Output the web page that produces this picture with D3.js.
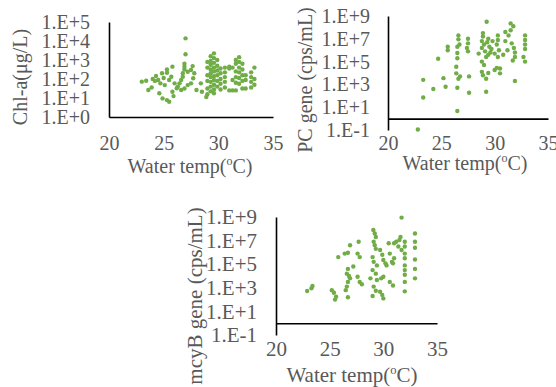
<!DOCTYPE html>
<html>
<head>
<meta charset="utf-8">
<script src="https://cdn.jsdelivr.net/npm/d3@7"></script>
<style>
  body { margin: 0; background: #fff; }
  svg { display: block; }
  text { font-family: "Liberation Serif", "Times New Roman", serif; fill: #595959; }
  .axis path { stroke: #000; stroke-width: 1.6; }
  .axis line { display: none; }
</style>
</head>
<body>
<svg></svg>
<script>
// x ticks (water temperature, °C)
const tempTicks = [20, 25, 30, 35]
// y ticks (powers of ten)
const chlTicks = [1e0, 1e1, 1e2, 1e3, 1e4, 1e5]
const geneTicks = [1e-1, 1e1, 1e3, 1e5, 1e7, 1e9]

// [temp °C, log10 value]
const chlPoints = [
  [27.0,4.14],[27.0,3.3],[26.9,2.8],[26.9,2.65],[25.8,2.65],[25.3,2.5],[25.3,2.33],[24.85,2.3],[24.3,2.16],[23.0,1.86],
  [23.4,1.91],[23.6,1.42],[24.5,1.95],[24.7,1.77],[25.1,1.68],[24.6,1.25],[24.9,0.98],[25.3,0.89],[25.5,0.8],[25.8,1.33],
  [26.2,1.51],[26.3,1.6],[26.45,1.77],[26.6,1.95],[26.75,2.3],[26.75,2.12],[27.2,2.38],[27.5,2.47],[27.65,2.68],[27.7,2.04],
  [27.5,1.77],[27.2,1.68],[26.9,1.5],[26.6,1.42],[28.0,1.42],[26.0,1.77],[25.5,1.95],[25.7,2.12],[28.4,1.77],[28.5,1.33],
  [23.9,1.55],[24.2,1.9],[25.0,2.05],[26.9,2.5],[27.8,2.3],[25.9,1.1],[24.0,2.0],
  [29.0,2.9],[29.0,2.6],[29.0,2.2],[29.0,1.9],[29.0,1.5],[29.0,1.2],[28.9,1.05],
  [29.3,3.2],[29.3,2.95],[29.3,2.75],[29.3,2.5],[29.3,2.3],[29.3,2.1],[29.3,1.85],[29.3,1.6],[29.3,1.35],
  [29.6,3.35],[29.6,3.1],[29.6,2.85],[29.6,2.6],[29.6,2.4],[29.6,2.15],[29.6,1.95],[29.6,1.7],[29.6,1.45],[29.6,1.25],
  [29.9,3.0],[29.9,2.7],[29.9,2.45],[29.9,2.2],[29.9,1.9],[29.9,1.6],
  [30.2,2.55],[30.2,2.3],[30.2,2.0],[30.2,1.75],[30.2,1.45],
  [30.6,2.6],[30.6,2.35],[30.6,2.1],[30.6,1.85],[30.6,1.55],
  [31.0,2.65],[31.0,2.55],[31.0,1.4],[31.3,2.6],[31.3,1.95],[31.3,1.4],
  [31.6,3.0],[31.6,2.8],[31.6,2.4],[31.6,2.1],[31.6,1.8],[31.6,1.4],
  [31.9,3.15],[31.9,2.9],[31.9,2.6],[31.9,2.35],[31.9,2.05],[31.9,1.75],
  [32.2,2.8],[32.2,2.5],[32.2,2.2],[32.2,1.9],[32.2,1.5],
  [32.5,2.2],[32.5,1.95],[32.5,1.5],
  [33.0,2.35],[33.0,2.1],[33.0,1.85],[33.0,1.55],
  [33.3,2.6],[33.3,2.0],[33.3,1.7]
]

const pcPoints = [
  [22.8,-0.95],[23.3,3.4],[23.3,1.85],[24.25,2.6],[24.7,5.25],[25.2,3.55],[25.4,2.8],[25.6,6.3],[25.6,6.0],[26.6,7.3],
  [26.6,6.95],[26.5,6.3],[26.7,6.5],[26.5,5.75],[26.5,5.3],[26.4,4.55],[26.4,3.97],[26.75,3.7],[26.6,3.5],[26.5,2.7],
  [26.5,0.67],[27.5,7.0],[27.5,6.6],[27.4,6.2],[27.5,5.9],[27.6,3.7],[27.6,2.27],[28.5,5.7],
  [29.25,8.5],[29.2,2.36],[28.9,3.8],[29.2,3.5],[29.4,4.0],[28.8,4.1],[30.0,4.26],[30.5,3.97],[30.2,4.45],[30.5,4.4],
  [31.9,3.3],[31.5,8.35],[31.75,8.1],
  [28.9,7.5],[28.9,7.2],[28.8,6.8],[29.0,6.5],[28.8,6.2],[29.1,5.9],[29.3,6.7],[29.4,7.0],[29.2,5.4],[28.8,5.0],
  [29.0,4.7],[29.5,6.3],[29.6,5.8],[29.7,6.1],[29.4,5.6],[29.8,6.8],
  [30.3,7.3],[30.3,6.9],[30.2,6.5],[30.4,6.0],[30.3,5.4],[30.0,5.7],
  [31.0,7.6],[31.3,7.3],[31.5,7.75],[31.6,6.6],[31.8,6.2],[31.9,5.8],[31.9,5.4],[31.7,5.1],[31.2,6.0],[31.0,6.8],[30.8,5.6],
  [32.85,7.3],[32.85,6.9],[32.85,6.5],[32.85,6.1],[32.7,5.4],[32.85,5.0]
]

const mcyPoints = [
  [22.9,2.73],[23.3,2.96],[23.4,3.15],[25.2,2.8],[25.4,2.58],[25.6,2.25],[25.5,2.0],
  [25.8,5.6],[26.4,5.9],[26.7,5.97],[26.9,6.6],
  [26.7,4.6],[26.6,4.2],[26.8,4.0],[26.9,3.8],[26.7,3.5],[26.6,3.1],[26.5,2.8],[26.7,2.2],
  [27.7,6.9],[27.6,5.9],[27.8,5.6],[27.2,4.8],[27.6,3.94],[27.8,3.5],[28.0,3.3],
  [29.07,7.9],[29.2,7.6],[29.3,7.3],[29.1,6.9],[29.2,6.6],[29.3,6.3],[29.0,5.6],[29.1,5.2],[29.4,4.9],[29.0,4.5],[29.3,4.2],
  [28.8,3.8],[29.4,3.66],[29.8,3.8],[30.0,3.94],[29.1,3.1],[29.3,2.75],[29.0,2.3],[29.7,2.67],
  [29.7,6.2],[29.9,5.8],[30.0,5.36],[30.2,5.07],[30.3,4.9],
  [30.5,6.77],[30.6,5.9],[30.8,5.2],[30.9,5.07],[31.0,5.5],[31.0,6.77],[31.2,6.9],
  [31.6,7.3],[31.5,7.05],[31.4,6.5],[31.7,6.2],[31.7,8.95],
  [32.0,6.9],[32.0,6.5],[32.0,5.9],[32.0,5.5],[32.0,4.9],[32.0,4.5],[32.0,4.1],[32.0,3.5],[32.0,2.7],
  [32.95,7.6],[32.95,6.9],[32.95,6.4],[32.95,5.4],[32.95,4.6],[32.95,3.8],
  [30.6,3.5],[30.9,3.2],[30.0,2.1],[29.9,2.4]
]

const width = 556, height = 387
const svg = d3.select('svg').attr('width', width).attr('height', height)

const fmtExp = v => {
  const e = Math.round(Math.log10(v))
  return '1.E' + (e < 0 ? '-' : '+') + Math.abs(e)
}

// one panel: x pixel range, y pixel range, label placements
function panel(o) {
  const x = d3.scaleLinear().domain([20, 35]).range(o.xr)
  const y = d3.scaleLog().domain(o.yDomain).range(o.yr)
  const fs = o.fs

  const yAxis = svg.append('g').attr('class', 'axis')
    .attr('transform', `translate(${o.xr[0]},0)`)
    .call(d3.axisLeft(y).tickValues(o.yTicks).tickFormat(fmtExp).tickSizeOuter(0).tickSize(0).tickPadding(o.yPad))
  yAxis.selectAll('text').style('font-size', fs + 'px').attr('fill', '#595959')
  yAxis.select('.domain').attr('fill', 'none')

  const xAxis = svg.append('g').attr('class', 'axis')
    .attr('transform', `translate(0,${y(1)})`)
    .call(d3.axisBottom(x).tickValues(tempTicks).tickSizeOuter(0).tickSize(0).tickPadding(o.xPad))
  xAxis.selectAll('text').style('font-size', fs + 'px').attr('fill', '#595959')

  svg.append('g').selectAll('circle')
    .data(o.points)
    .join('circle')
    .attr('cx', d => x(d[0]))
    .attr('cy', d => y(Math.pow(10, d[1])))
    .attr('r', 2.2)
    .attr('fill', '#70AD47')

  const t = svg.append('text')
    .attr('x', o.xTitle[0]).attr('y', o.xTitle[1])
    .attr('text-anchor', 'middle')
    .style('font-size', fs + 'px')
  t.append('tspan').text('Water temp(')
  t.append('tspan').attr('dy', -fs * 0.4).style('font-size', (fs * 0.6) + 'px').text('o')
  t.append('tspan').attr('dy', fs * 0.4).text('C)')

  svg.append('text')
    .attr('transform', `translate(${o.yTitle[0]},${o.yTitle[1]}) rotate(-90)`)
    .attr('text-anchor', 'middle')
    .style('font-size', fs + 'px')
    .text(o.yLabel)
}

panel({ xr: [109, 273], yr: [117, 22], yDomain: [1, 1e5], yTicks: chlTicks, points: chlPoints,
  yPad: 19, xPad: 19, fs: 20, xTitle: [190, 173], yTitle: [27, 77], yLabel: 'Chl-a(μg/L)' })

panel({ xr: [388, 548], yr: [130, 16], yDomain: [0.1, 1e9], yTicks: geneTicks, points: pcPoints,
  yPad: 18, xPad: 17, fs: 20, xTitle: [465, 170], yTitle: [312, 80], yLabel: 'PC gene (cps/mL)' })

panel({ xr: [276, 437], yr: [335, 217], yDomain: [0.1, 1e9], yTicks: geneTicks, points: mcyPoints,
  yPad: 19, xPad: 17.5, fs: 21, xTitle: [352, 382], yTitle: [202, 296], yLabel: 'mcyB gene (cps/mL)' })
</script>
</body>
</html>
